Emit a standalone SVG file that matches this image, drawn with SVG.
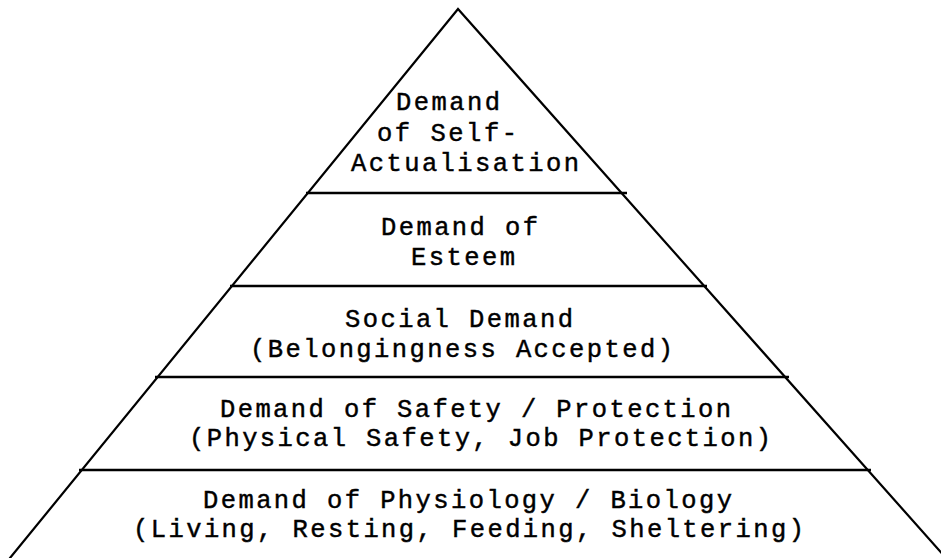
<svg xmlns="http://www.w3.org/2000/svg" width="941" height="558" viewBox="0 0 941 558">
<style>
.edge{stroke:#000;stroke-width:2.2;fill:none;stroke-linecap:round}
.div{stroke:#000;stroke-width:2.6;fill:none}
text{font-family:"Liberation Mono","Courier New",monospace;font-size:25.5px;fill:#000;stroke:#000;stroke-width:0.45}
</style>
<rect width="941" height="558" fill="#fff"/>
<g id="connectors">
<path class="edge" d="M10,558 L458,9 L946,558"/>
<line class="div" x1="306" y1="193" x2="627" y2="193"/>
<line class="div" x1="230" y1="286" x2="707" y2="286"/>
<line class="div" x1="155" y1="377" x2="789" y2="377"/>
<line class="div" x1="79" y1="470" x2="871" y2="470"/>
</g>
<g id="level5">
<text x="396" y="110" textLength="104" lengthAdjust="spacing">Demand</text>
<text x="377" y="141" textLength="140" lengthAdjust="spacing">of Self-</text>
<text x="351" y="171" textLength="228" lengthAdjust="spacing">Actualisation</text>
</g>
<g id="level4">
<text x="381" y="235" textLength="157" lengthAdjust="spacing">Demand of</text>
<text x="411" y="265" textLength="104" lengthAdjust="spacing">Esteem</text>
</g>
<g id="level3">
<text x="345" y="327" textLength="228" lengthAdjust="spacing">Social Demand</text>
<text x="250" y="357" textLength="423" lengthAdjust="spacing">(Belongingness Accepted)</text>
</g>
<g id="level2">
<text x="220" y="417" textLength="511" lengthAdjust="spacing">Demand of Safety / Protection</text>
<text x="189" y="446" textLength="582" lengthAdjust="spacing">(Physical Safety, Job Protection)</text>
</g>
<g id="level1">
<text x="203" y="508" textLength="529" lengthAdjust="spacing">Demand of Physiology / Biology</text>
<text x="133" y="537" textLength="671" lengthAdjust="spacing">(Living, Resting, Feeding, Sheltering)</text>
</g>
</svg>
